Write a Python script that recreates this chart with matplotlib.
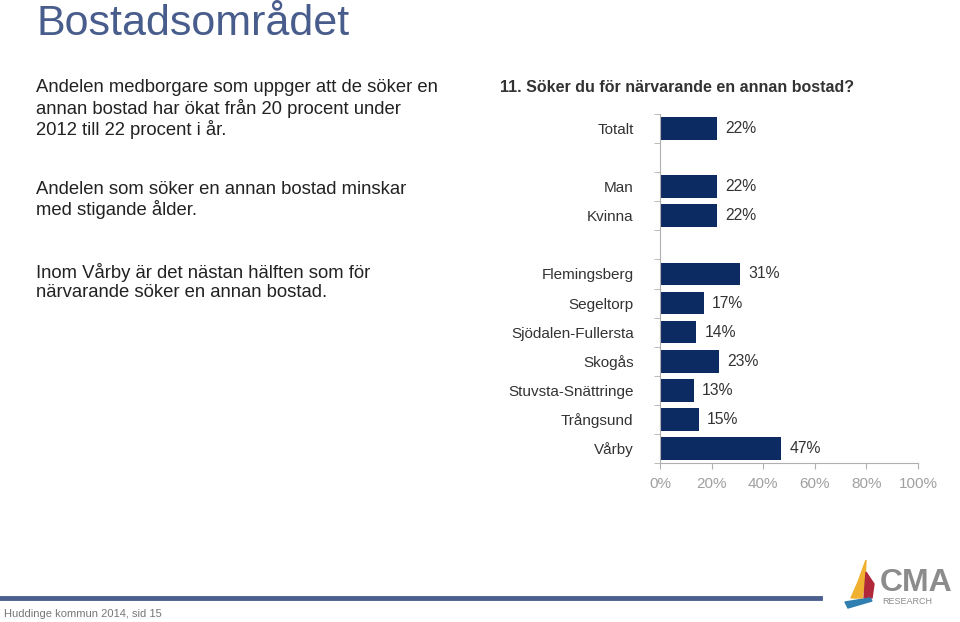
import matplotlib
matplotlib.use("Agg")
import matplotlib.pyplot as plt
from matplotlib.patches import Polygon
import numpy as np

plt.rcParams['font.family'] = ['Liberation Sans', 'DejaVu Sans']

# data
groups = [["Totalt"], ["Man", "Kvinna"],
          ["Flemingsberg", "Segeltorp", "Sjödalen-Fullersta", "Skogås",
           "Stuvsta-Snättringe", "Trångsund", "Vårby"]]
values = [22, 22, 22, 31, 17, 14, 23, 13, 15, 47]
xticks = [0, 20, 40, 60, 80, 100]

title = "Bostadsområdet"
question = "11. Söker du för närvarande en annan bostad?"
texts = [
    "Andelen medborgare som uppger att de söker en\nannan bostad har ökat från 20 procent under\n2012 till 22 procent i år.",
    "Andelen som söker en annan bostad minskar\nmed stigande ålder.",
    "Inom Vårby är det nästan hälften som för\nnärvarande söker en annan bostad.",
]
footer = "Huddinge kommun 2014, sid 15"

W, H = 960, 622
fig = plt.figure(figsize=(W / 100, H / 100), dpi=100)

# slot positions, one empty slot between groups
labels, pos = [], []
p = 0
for g in groups:
    for name in g:
        labels.append(name)
        pos.append(p)
        p += 1
    p += 1
nslots = p - 1

ax = fig.add_axes([660 / W, (H - 463) / H, 258 / W, 349 / H])
bar_color = "#0c2b63"
ax.barh(pos, values, height=0.78, color=bar_color)
for y, v in zip(pos, values):
    ax.text(v + 3.2, y, f"{v}%", va="center", ha="left", fontsize=11.3, color="#333333")

ax.set_xlim(0, 100)
ax.set_ylim(nslots - 0.5, -0.5)
ax.set_xticks(xticks)
ax.set_xticklabels([f"{t}%" for t in xticks], fontsize=11, color="#a0a0a0")
ax.set_yticks(pos)
ax.set_yticklabels(labels, fontsize=11, color="#333333")
ax.set_yticks(np.arange(-0.5, nslots, 1.0), minor=True)
ax.tick_params(axis="y", which="major", length=0, pad=19)
ax.tick_params(axis="y", which="minor", length=4, color="#b0b0b0", direction="out")
ax.tick_params(axis="x", length=4, color="#b0b0b0", pad=6)
for s in ["top", "right"]:
    ax.spines[s].set_visible(False)
ax.spines["left"].set_color("#b0b0b0")
ax.spines["bottom"].set_color("#b0b0b0")

# page text
fig.text(36 / W, 1 - 35 / H, title, fontsize=31, color="#485d8c", va="baseline", ha="left")
fig.text(500 / W, 1 - 88 / H, question, fontsize=11.5, color="#333333",
         fontweight="bold", va="center", ha="left")
ys = [109, 200, 282]
for t, y in zip(texts, ys):
    fig.text(36 / W, 1 - y / H, t, fontsize=13.3, color="#222222",
             va="center", ha="left", linespacing=1.15)

# footer line and text
fig.add_artist(plt.Line2D([0, 820 / W], [1 - 598 / H, 1 - 598 / H],
                          transform=fig.transFigure, color="#4b5f8e", lw=3.5))
fig.text(4 / W, 1 - 614 / H, footer, fontsize=8, color="#777777", va="center", ha="left")

# logo
def px(pts):
    return [(x / W, 1 - y / H) for x, y in pts]

fig.add_artist(Polygon(px([(866, 560), (858, 582), (851, 598), (862, 598), (865, 580)]),
                       closed=True, transform=fig.transFigure, color="#f0b030"))
fig.add_artist(Polygon(px([(866, 572), (874, 584), (872, 598), (864, 598)]),
                       closed=True, transform=fig.transFigure, color="#b0283a"))
fig.add_artist(Polygon(px([(845, 602), (870, 598), (872, 601), (848, 608)]),
                       closed=True, transform=fig.transFigure, color="#2f7fb0"))
fig.text(880 / W, 1 - 583 / H, "CMA", fontsize=23, color="#8c8c8c",
         family=["Liberation Sans Narrow", "Liberation Sans"],
         va="center", ha="left", fontweight="bold")
fig.text(882 / W, 1 - 602 / H, "RESEARCH", fontsize=6.5, color="#8c8c8c",
         va="center", ha="left")

fig.savefig("out.png", dpi=100, facecolor="white")
